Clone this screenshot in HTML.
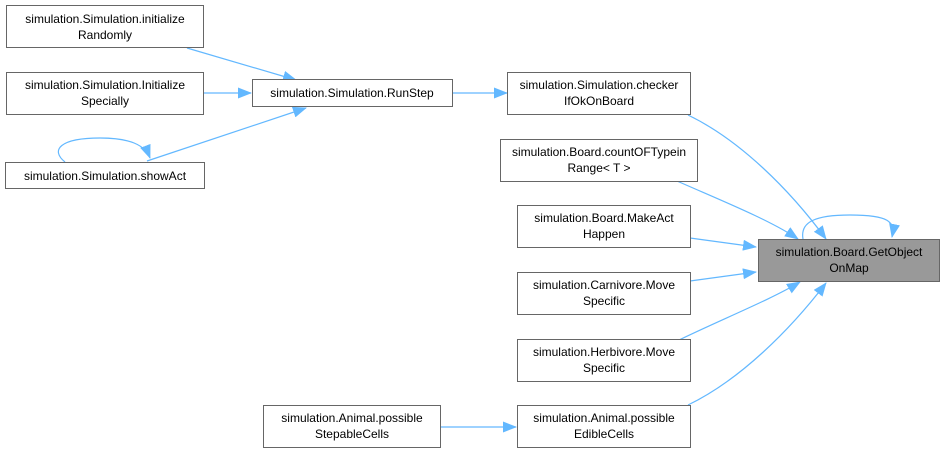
<!DOCTYPE html>
<html><head><meta charset="utf-8"><style>
html,body{margin:0;padding:0;background:#fff;}
svg{display:block;}
text{font-family:"Liberation Sans",Arial,sans-serif;font-size:12px;fill:#000;text-anchor:middle;}
.n{fill:#fff;stroke:#666;stroke-width:1;}
.e{fill:none;stroke:#63b8ff;stroke-width:1.2;}
</style></head><body>
<svg width="945" height="453" viewBox="0 0 945 453" xmlns="http://www.w3.org/2000/svg">
<defs><marker id="m" markerWidth="14" markerHeight="11" refX="13" refY="5.5" orient="auto" markerUnits="userSpaceOnUse"><path d="M0,0 L14,5.5 L0,11 z" fill="#63b8ff"/></marker></defs>
<path class="e" d="M187,48 L296,80" marker-end="url(#m)"/>
<path class="e" d="M204,93 L251,93" marker-end="url(#m)"/>
<path class="e" d="M147,161 L306,108" marker-end="url(#m)"/>
<path class="e" d="M65,162 C50,150 60,138 100,138 C130,138 145,145 150,158" marker-end="url(#m)"/>
<path class="e" d="M452,93 L507,93" marker-end="url(#m)"/>
<path class="e" d="M688,115 C740,140 790,190 826,239" marker-end="url(#m)"/>
<path class="e" d="M677,181 C720,200 770,220 798,239" marker-end="url(#m)"/>
<path class="e" d="M690,238 L756,247" marker-end="url(#m)"/>
<path class="e" d="M690,281 L756,272" marker-end="url(#m)"/>
<path class="e" d="M677,341 C720,320 770,300 800,282" marker-end="url(#m)"/>
<path class="e" d="M688,405 C740,380 790,330 826,283" marker-end="url(#m)"/>
<path class="e" d="M440,427 L516,427" marker-end="url(#m)"/>
<path class="e" d="M803,239 C800,222 815,215 850,215 C890,215 895,222 892,237" marker-end="url(#m)"/>
<rect class="n" x="6.5" y="5.5" width="197" height="42"/>
<text x="105" y="23">simulation.Simulation.initialize</text><text x="105" y="39">Randomly</text>
<rect class="n" x="6.5" y="72.5" width="197" height="42"/>
<text x="105" y="89">simulation.Simulation.Initialize</text><text x="105" y="105">Specially</text>
<rect class="n" x="5.5" y="162.5" width="199" height="26"/>
<text x="105" y="180">simulation.Simulation.showAct</text>
<rect class="n" x="252.5" y="79.5" width="200" height="27"/>
<text x="352" y="97">simulation.Simulation.RunStep</text>
<rect class="n" x="507.5" y="72.5" width="183" height="42"/>
<text x="599" y="89">simulation.Simulation.checker</text><text x="599" y="105">IfOkOnBoard</text>
<rect class="n" x="500.5" y="139.5" width="197" height="42"/>
<text x="599" y="156">simulation.Board.countOFTypein</text><text x="599" y="172">Range&lt; T &gt;</text>
<rect class="n" x="517.5" y="205.5" width="173" height="42"/>
<text x="604" y="222">simulation.Board.MakeAct</text><text x="604" y="238">Happen</text>
<rect class="n" x="517.5" y="272.5" width="173" height="42"/>
<text x="604" y="289">simulation.Carnivore.Move</text><text x="604" y="305">Specific</text>
<rect class="n" x="517.5" y="339.5" width="173" height="42"/>
<text x="604" y="356">simulation.Herbivore.Move</text><text x="604" y="372">Specific</text>
<rect class="n" x="517.5" y="405.5" width="173" height="42"/>
<text x="604" y="422">simulation.Animal.possible</text><text x="604" y="438">EdibleCells</text>
<rect class="n" x="263.5" y="405.5" width="177" height="42"/>
<text x="352" y="422">simulation.Animal.possible</text><text x="352" y="438">StepableCells</text>
<rect x="758.5" y="239.5" width="181" height="42" fill="#999" stroke="#666"/>
<text x="849" y="256">simulation.Board.GetObject</text><text x="849" y="272">OnMap</text>
</svg>
</body></html>
